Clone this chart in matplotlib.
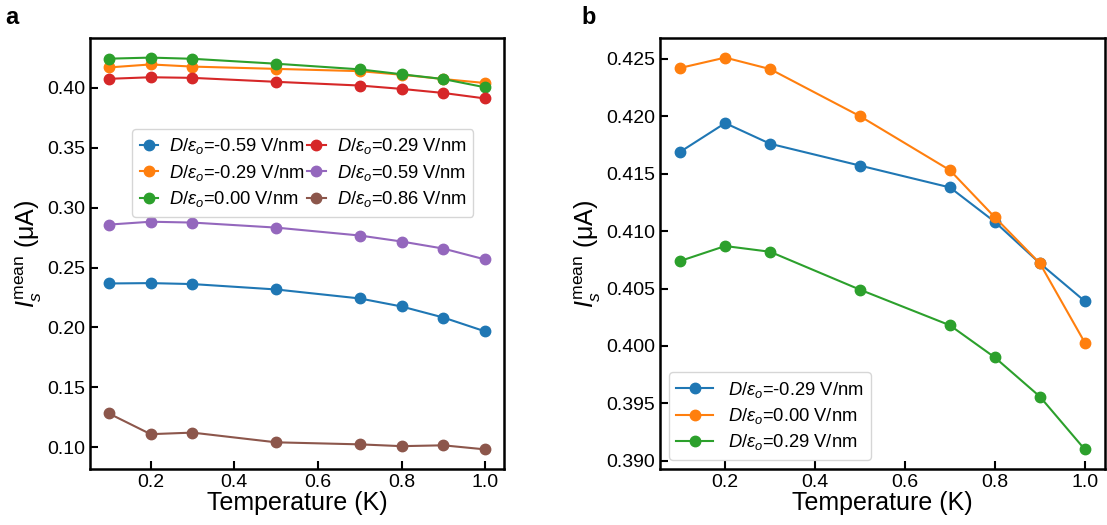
import numpy as np
import matplotlib
matplotlib.use("Agg")
import matplotlib.pyplot as plt

plt.rcParams['font.family'] = ['Liberation Sans', 'DejaVu Sans']
plt.rcParams['mathtext.fontset'] = 'custom'
plt.rcParams['mathtext.rm'] = 'Liberation Sans'
plt.rcParams['mathtext.it'] = 'Liberation Sans:italic'
plt.rcParams['mathtext.bf'] = 'Liberation Sans:bold'

# temperatures (K)
temps = [0.1, 0.2, 0.3, 0.5, 0.7, 0.8, 0.9, 1.0]

# mean switching current (uA) for each displacement field
I_m059 = [0.2367, 0.2370, 0.2362, 0.2317, 0.2242, 0.2175, 0.2083, 0.1967]
I_m029 = [0.4169, 0.4194, 0.4176, 0.4157, 0.4138, 0.4108, 0.4072, 0.4039]
I_000 = [0.4242, 0.4251, 0.4241, 0.4200, 0.4153, 0.4112, 0.4072, 0.4003]
I_029 = [0.4074, 0.4087, 0.4082, 0.4049, 0.4018, 0.3990, 0.3956, 0.3910]
I_059 = [0.2858, 0.2882, 0.2875, 0.2833, 0.2767, 0.2717, 0.2658, 0.2567]
I_086 = [0.1283, 0.1110, 0.1123, 0.1042, 0.1025, 0.1010, 0.1017, 0.0983]

fields_a = ['-0.59', '-0.29', '0.00', '0.29', '0.59', '0.86']
series_a = [I_m059, I_m029, I_000, I_029, I_059, I_086]
fields_b = ['-0.29', '0.00', '0.29']
series_b = [I_m029, I_000, I_029]

ylabel = r'$I_s^{\mathrm{mean}}$ (μA)'
dlab = r'$D\mathit{/}\varepsilon_o$='

fig = plt.figure(figsize=(11.07, 5.25), dpi=100)
ax1 = fig.add_axes([0.0813, 0.1067, 0.3740, 0.8209])
ax2 = fig.add_axes([0.5962, 0.1067, 0.4020, 0.8209])

for f, s in zip(fields_a, series_a):
    ax1.plot(temps, s, '-o', lw=1.5, ms=7.5, label=dlab + f + ' V/nm')
for i, (f, s) in enumerate(zip(fields_b, series_b)):
    ax2.plot(temps, s, '-o', lw=1.5, ms=7.5, color='C%d' % i, label=dlab + f + ' V/nm')

ax1.legend(ncol=2, loc='upper left', bbox_to_anchor=(0.08, 0.81), fontsize=13.2,
           handlelength=1.0, columnspacing=0.15, handletextpad=0.6, labelspacing=0.35)
ax2.legend(loc='lower left', fontsize=13.2, handlelength=2.0, labelspacing=0.35)

ax1.set_yticks([0.10, 0.15, 0.20, 0.25, 0.30, 0.35, 0.40])
ax2.set_yticks([0.390, 0.395, 0.400, 0.405, 0.410, 0.415, 0.420, 0.425])
ax2.yaxis.set_major_formatter(matplotlib.ticker.FormatStrFormatter('%.3f'))
ax1.yaxis.set_major_formatter(matplotlib.ticker.FormatStrFormatter('%.2f'))

for ax in (ax1, ax2):
    ax.set_xticks([0.2, 0.4, 0.6, 0.8, 1.0])
    ax.tick_params(direction='in', labelsize=14, width=1.5, length=6)
    for sp in ax.spines.values():
        sp.set_linewidth(1.8)
    ax.set_xlabel('Temperature (K)', fontsize=18, labelpad=0)
    ax.set_ylabel(ylabel, fontsize=18, labelpad=2)

fig.text(0.005, 0.955, 'a', fontsize=17, fontweight='bold')
fig.text(0.525, 0.955, 'b', fontsize=17, fontweight='bold')

fig.savefig('out.png', dpi=100)
